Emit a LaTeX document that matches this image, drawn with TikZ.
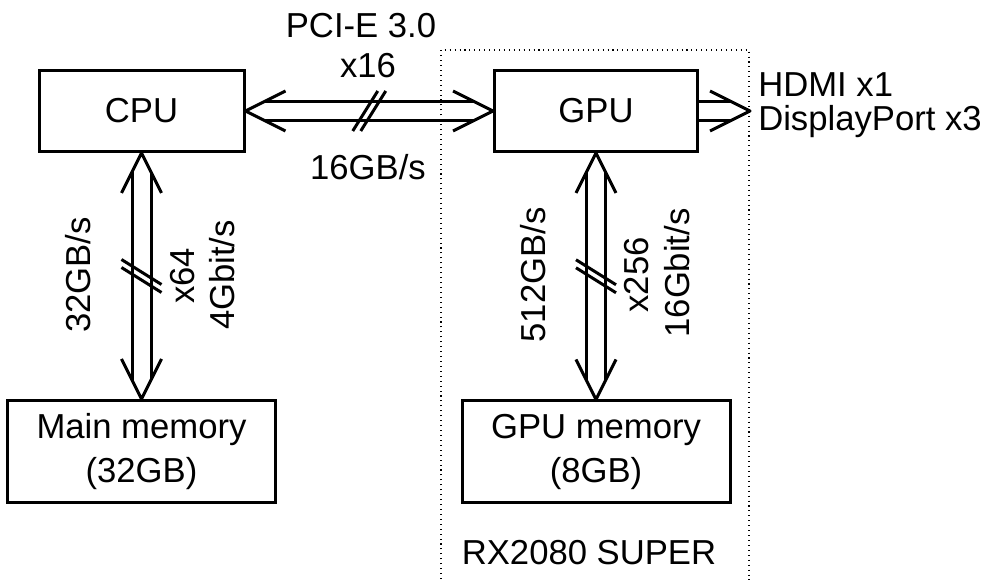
\documentclass[tikz,border=0pt]{standalone}
\usepackage{fontspec}
\setmainfont{Liberation Sans}
\usetikzlibrary{calc}

% one drawing unit = one pixel of the output (0.75pt)
\def\px{0.75pt}

% vertical bus: hollow double-headed arrow from #1.south to #2.north, with a bus-width mark
\newcommand\vbus[2]{%
  \draw[conn] ($(#1.south)+(-20,40)$) -- (#1.south) -- ($(#1.south)+(20,40)$);
  \draw[conn] ($(#2.north)+(-20,-40)$) -- (#2.north) -- ($(#2.north)+(20,-40)$);
  \draw[conn] ($(#1.south)+(-9.5,19)$) -- ($(#2.north)+(-9.5,-19)$);
  \draw[conn] ($(#1.south)+(9.5,19)$) -- ($(#2.north)+(9.5,-19)$);
  \draw[conn] ($(#1.south)!0.5!(#2.north)+(-20,-16.5)$) -- ++(40,25);
  \draw[conn] ($(#1.south)!0.5!(#2.north)+(-20,-8.5)$) -- ++(40,25);
}

\begin{document}
\begin{tikzpicture}[x=0.75pt,y=-0.75pt,
  box/.style={draw,line width=2.25pt,inner sep=0pt,align=center,
    font=\fontsize{26}{33}\selectfont},
  lbl/.style={inner sep=0pt,font=\fontsize{26}{33}\selectfont},
  conn/.style={line width=2.25pt,line join=round,line cap=butt},
  frame/.style={line width=0.8pt,dash pattern=on 0.8pt off 2.9pt}]

\useasboundingbox (0,0) rectangle (997,580);

% graphics card outline
\draw[frame] (441,584) -- (441,50) -- (749,50) -- (749,584);

% blocks
\node[box,minimum width=205*\px,minimum height=81*\px] (cpu) at (141.5,111) {CPU};
\node[box,minimum width=203*\px,minimum height=81*\px] (gpu) at (596,111) {GPU};
\node[box,minimum width=268*\px,minimum height=102*\px] (mem) at (141.5,451.5) {Main memory\\(32GB)};
\node[box,minimum width=268*\px,minimum height=102*\px] (gmem) at (596,452) {GPU memory\\(8GB)};
\coordinate (out) at (750,111);

% PCI-E bus between CPU and GPU
\draw[conn] ($(cpu.east)+(40,-20)$) -- (cpu.east) -- ($(cpu.east)+(40,20)$);
\draw[conn] ($(gpu.west)+(-40,-20)$) -- (gpu.west) -- ($(gpu.west)+(-40,20)$);
\draw[conn] ($(cpu.east)+(19,-9.5)$) -- ($(gpu.west)+(-19,-9.5)$);
\draw[conn] ($(cpu.east)+(19,9.5)$) -- ($(gpu.west)+(-19,9.5)$);
\draw[conn] ($(cpu.east)!0.5!(gpu.west)+(-16.5,20)$) -- ++(25,-40);
\draw[conn] ($(cpu.east)!0.5!(gpu.west)+(-8.5,20)$) -- ++(25,-40);

% memory buses
\vbus{cpu}{mem}
\vbus{gpu}{gmem}

% display output
\draw[conn] ($(out)+(-40,-20)$) -- (out) -- ($(out)+(-40,20)$);
\draw[conn] ($(gpu.east)+(0,-9.5)$) -- ($(out)+(-19,-9.5)$);
\draw[conn] ($(gpu.east)+(0,9.5)$) -- ($(out)+(-19,9.5)$);

% labels
\node[lbl,anchor=base] (pcie) at (361,38) {PCI-E 3.0};
\node[lbl,anchor=base] (pciew) at (368,78) {x16};
\node[lbl,anchor=base] (pcieb) at (368,180) {16GB/s};

\node[lbl,anchor=base west] (hdmi) at (758,97) {HDMI x1};
\node[lbl,anchor=base west] (dp) at (758,131) {DisplayPort x3};

\node[lbl,rotate=90,anchor=base] (memb) at (90,275) {32GB/s};
\node[lbl,rotate=90,anchor=base] (memw) at (194,276) {x64};
\node[lbl,rotate=90,anchor=base] (memr) at (234,275) {4Gbit/s};

\node[lbl,rotate=90,anchor=base] (gmemb) at (545,275) {512GB/s};
\node[lbl,rotate=90,anchor=base] (gmemw) at (648,275) {x256};
\node[lbl,rotate=90,anchor=base] (gmemr) at (689,273) {16Gbit/s};

\node[lbl,anchor=base] (card) at (589,565) {RX2080 SUPER};

\end{tikzpicture}
\end{document}
